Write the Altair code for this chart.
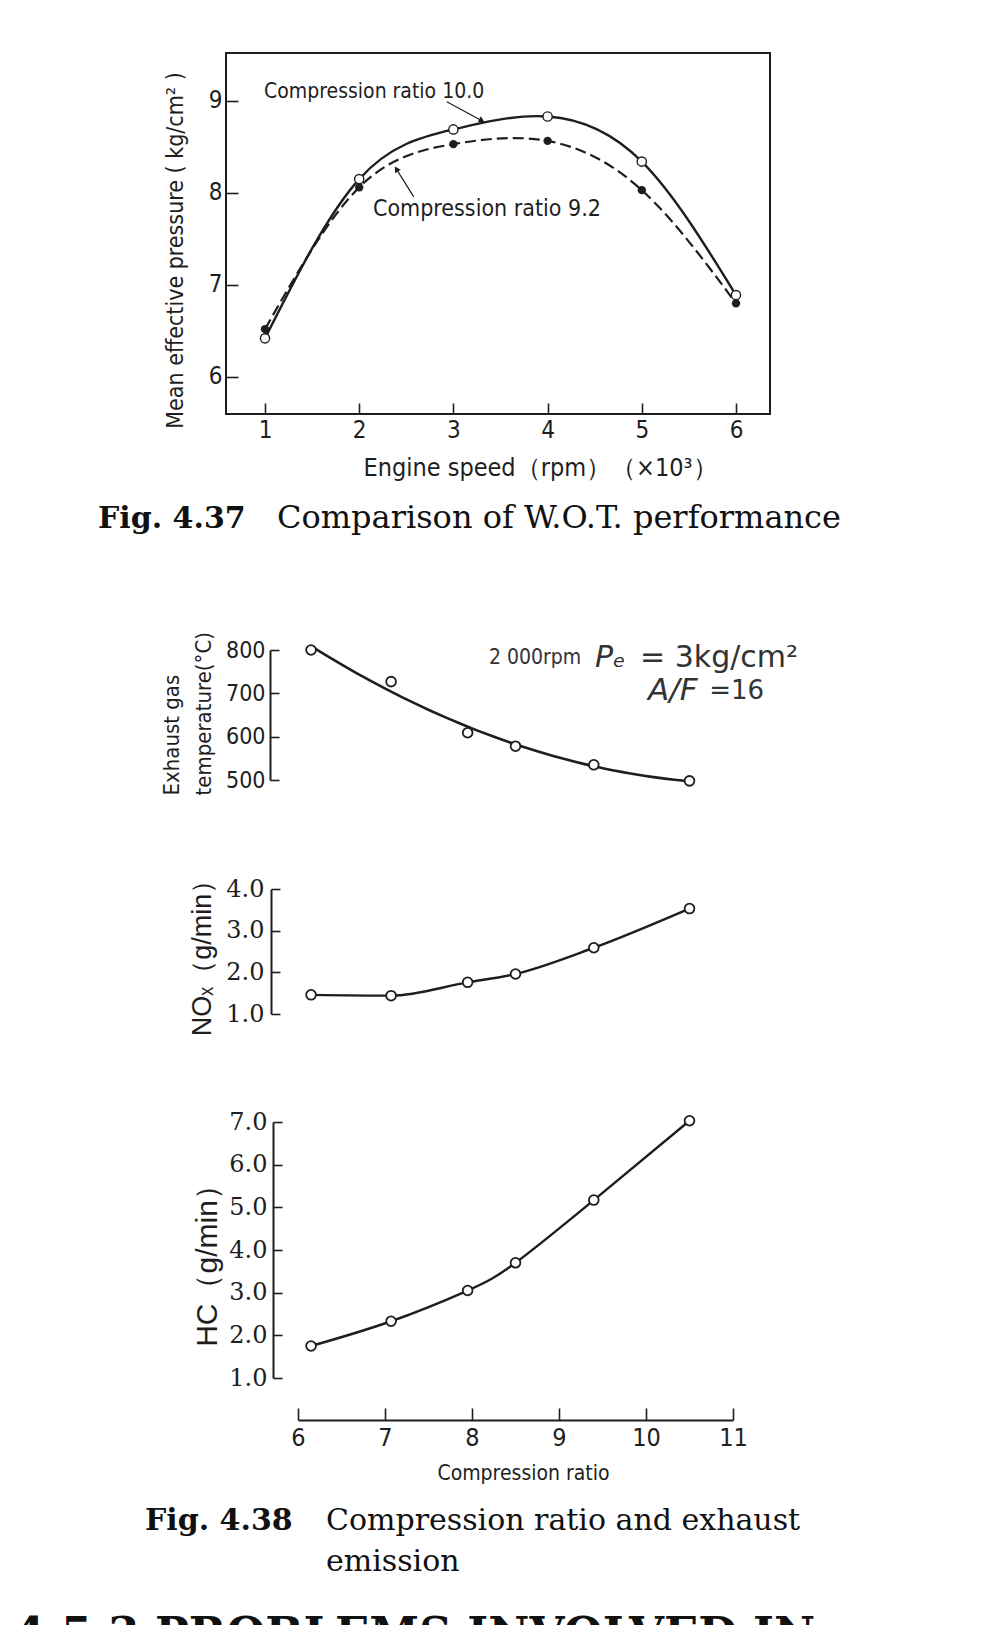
import math
import altair as alt
import pandas as pd

# ------------------------------------------------------------------ data
# Fig. 4.37  (engine speed x10^3 rpm vs mean effective pressure kg/cm2)
SPEED = [1, 2, 3, 4, 5, 6]
MEP_CR100 = [6.42, 8.15, 8.69, 8.83, 8.34, 6.89]   # compression ratio 10.0 (open)
MEP_CR92 = [6.52, 8.06, 8.53, 8.565, 8.03, 6.80]   # compression ratio 9.2 (filled)
SPEED_TICKS = [1, 2, 3, 4, 5, 6]
MEP_TICKS = [6, 7, 8, 9]

# Fig. 4.38  (compression ratio vs exhaust temperature, NOx, HC)
CR = [6.15, 7.07, 7.95, 8.5, 9.4, 10.5]
EXH_TEMP = [800, 727, 609, 578, 535, 498]
NOX = [1.46, 1.44, 1.76, 1.96, 2.59, 3.53]
HC = [1.75, 2.33, 3.05, 3.70, 5.17, 7.03]
CR_TICKS = [6, 7, 8, 9, 10, 11]
TEMP_TICKS = [500, 600, 700, 800]
NOX_TICKS = [1, 2, 3, 4]
HC_TICKS = [1, 2, 3, 4, 5, 6, 7]

# texts
LABEL_CR100 = "Compression ratio 10.0"
LABEL_CR92 = "Compression ratio 9.2"
TITLE_MEP = "Mean effective pressure ( kg/cm² )"
TITLE_SPEED = "Engine speed（rpm）（×10³）"
TITLE_TEMP = ["Exhaust gas", "temperature(°C)"]
TITLE_NOX = "NOₓ（g/min）"
TITLE_HC = "HC（g/min）"
TITLE_CR = "Compression ratio"
COND_RPM = ["2 000rpm"]
COND_EQ1, COND_EQ2 = ["= 3kg/cm²"], ["=16"]
COND_ITALIC = ["Pₑ", "A/F"]
CAP1_BOLD, CAP1_TEXT = "Fig. 4.37", "Comparison of W.O.T. performance"
CAP2_BOLD, CAP2_LINE1, CAP2_LINE2 = "Fig. 4.38", "Compression ratio and exhaust", "emission"
HEADING = "4.5.3  PROBLEMS INVOLVED IN"

# ------------------------------------------------------------------ layout / style
W, H = 967, 1617
INK = "#1e1e1e"
FONT_C = "Liberation Sans Narrow, DejaVu Sans Condensed, Arial Narrow, sans-serif"
FONT_S = "Liberation Sans, Arial, sans-serif"
FONT_D = "DejaVu Sans, sans-serif"
SERIF = "DejaVu Serif, Liberation Serif, serif"

# top chart scales (domain = frame extent)
X1_DOM, X1_RNG = [0.586, 6.361], [218, 762]
Y1_DOM, Y1_RNG = [5.598, 9.52], [406, 45]
# bottom chart scales
X2_DOM, X2_RNG = [6, 11], [290, 725]
T_DOM, T_RNG = [500, 800], [772, 642]
N_DOM, N_RNG = [1, 4], [1006, 881]
H_DOM, H_RNG = [1, 7], [1370, 1114]


def sc(dom, rng):
    return alt.Scale(domain=dom, range=rng, nice=False, zero=False)


x1, y1 = sc(X1_DOM, X1_RNG), sc(Y1_DOM, Y1_RNG)
x2 = sc(X2_DOM, X2_RNG)
yt, yn, yh = sc(T_DOM, T_RNG), sc(N_DOM, N_RNG), sc(H_DOM, H_RNG)

# ------------------------------------------------------------------ Fig 4.37
df100 = pd.DataFrame({"s": SPEED, "p": MEP_CR100})
df92 = pd.DataFrame({"s": SPEED, "p": MEP_CR92})

X1_AXIS_Y = Y1_RNG[0] - 11
Y1_AXIS_X = X1_RNG[0] + 12
x1_axis = alt.Axis(orient="bottom", offset=X1_AXIS_Y - H, values=SPEED_TICKS, tickSize=11,
                   tickWidth=1.6, tickColor=INK, domain=False, grid=False, labelPadding=4,
                   labelFont=FONT_C, labelFontSize=24, labelColor=INK, labelFlush=False,
                   labelOverlap=False, title=TITLE_SPEED, titleFont=FONT_C, titleFontSize=25,
                   titleFontWeight="normal", titleColor=INK, titleX=532, titleY=64,
                   titleAlign="center", titleBaseline="middle")
y1_axis = alt.Axis(orient="left", offset=-Y1_AXIS_X, values=MEP_TICKS, tickSize=12,
                   tickWidth=1.6, tickColor=INK, domain=False, grid=False, labelPadding=4,
                   labelFont=FONT_C, labelFontSize=24, labelColor=INK, labelFlush=False,
                   labelOverlap=False, title=TITLE_MEP, titleFont=FONT_C, titleFontSize=23,
                   titleFontWeight="normal", titleColor=INK, titleX=167 - Y1_AXIS_X, titleY=242,
                   titleAngle=270, titleAlign="center", titleBaseline="middle")


def X1(field):
    return alt.X(field, scale=x1, axis=x1_axis)


def Y1(field):
    return alt.Y(field, scale=y1, axis=y1_axis)


frame = alt.Chart(pd.DataFrame({"x0": [X1_DOM[0]], "x1": [X1_DOM[1]],
                                "y0": [Y1_DOM[0]], "y1": [Y1_DOM[1]]})).mark_rect(
    fillOpacity=0, stroke=INK, strokeWidth=2).encode(
    x=X1("x0:Q"), x2="x1", y=Y1("y0:Q"), y2="y1")

line100 = alt.Chart(df100).mark_line(interpolate="natural", color=INK, strokeWidth=2.4).encode(
    x=X1("s:Q"), y=Y1("p:Q"))
line92 = alt.Chart(df92).mark_line(interpolate="natural", color=INK, strokeWidth=2.2,
                                   strokeDash=[11, 5]).encode(x=X1("s:Q"), y=Y1("p:Q"))
pts100 = alt.Chart(df100).mark_point(shape="circle", filled=True, fill="white", stroke=INK,
                                     strokeWidth=1.4, size=85, opacity=1).encode(
    x=X1("s:Q"), y=Y1("p:Q"))
pts92 = alt.Chart(df92).mark_point(shape="circle", filled=True, fill=INK, size=70,
                                   opacity=1).encode(x=X1("s:Q"), y=Y1("p:Q"))

ann = pd.DataFrame({"x": [0.99, 2.146], "y": [9.10, 7.826], "t": [LABEL_CR100, LABEL_CR92],
                    "fs": [21, 23]})
ann_text = alt.Chart(ann).mark_text(align="left", baseline="middle", font=FONT_C,
                                    color=INK).encode(
    x=X1("x:Q"), y=Y1("y:Q"), text="t:N", size=alt.Size("fs:Q", scale=None, legend=None))

# leader arrows (data coordinates)
ARROW_X0, ARROW_Y0 = [2.93, 2.58], [8.99, 7.957]
ARROW_X1, ARROW_Y1 = [3.293, 2.40], [8.79, 8.25]
kx = (X1_RNG[1] - X1_RNG[0]) / (X1_DOM[1] - X1_DOM[0])
ky = (Y1_RNG[0] - Y1_RNG[1]) / (Y1_DOM[1] - Y1_DOM[0])
angles = [math.degrees(math.atan2((b - a) * kx, (d - c) * ky))
          for a, b, c, d in zip(ARROW_X0, ARROW_X1, ARROW_Y0, ARROW_Y1)]
arr = pd.DataFrame({"x0": ARROW_X0, "y0": ARROW_Y0, "x1": ARROW_X1, "y1": ARROW_Y1, "a": angles})
arrow_lines = alt.Chart(arr).mark_rule(color=INK, strokeWidth=1.2).encode(
    x=X1("x0:Q"), y=Y1("y0:Q"), x2="x1", y2="y1")
arrow_heads = alt.Chart(arr).mark_point(shape="triangle", filled=True, fill=INK, size=45,
                                        opacity=1).encode(
    x=X1("x1:Q"), y=Y1("y1:Q"), angle=alt.Angle("a:Q", scale=None))

top = alt.layer(frame, line100, line92, pts100, pts92, arrow_lines, arrow_heads, ann_text)

# ------------------------------------------------------------------ Fig 4.38
bdf = pd.DataFrame({"cr": CR, "temp": EXH_TEMP, "nox": NOX, "hc": HC})

YA_T, YA_N, YA_H = 262, 263, 265     # y-axis line positions
TICK = 9


def y_axis_main(xa, ticks, fmt, lfont, lsize, pad, title, tfont, tsize, tx, ty, **kw):
    opts = dict(titleAlign="center", titleBaseline="middle")
    opts.update(kw)
    return alt.Axis(orient="left", offset=-xa, values=ticks, format=fmt, ticks=False,
                    domain=True, domainWidth=2, domainColor=INK, grid=False, labelPadding=pad,
                    labelFont=lfont, labelFontSize=lsize, labelColor=INK, labelFlush=False,
                    labelOverlap=False, title=title, titleFont=tfont, titleFontSize=tsize,
                    titleFontWeight="normal", titleColor=INK, titleX=tx - xa, titleY=ty,
                    titleAngle=270, **opts)


def y_axis_ticks(xa, ticks):
    return alt.Axis(orient="left", offset=-(xa + TICK), values=ticks, tickSize=TICK,
                    tickWidth=1.6, tickColor=INK, domain=False, labels=False, grid=False,
                    title=None)


x2_axis_main = alt.Axis(orient="bottom", offset=1412 - H, values=CR_TICKS, ticks=False,
                        domain=True, domainWidth=2, domainColor=INK, grid=False,
                        labelPadding=5, labelFont=FONT_C, labelFontSize=25, labelColor=INK,
                        labelFlush=False, labelOverlap=False, title=TITLE_CR,
                        titleFont=FONT_C, titleFontSize=21, titleFontWeight="normal",
                        titleColor=INK, titleX=515, titleY=53, titleAlign="center",
                        titleBaseline="middle")
x2_axis_ticks = alt.Axis(orient="bottom", offset=1412 - 12 - H, values=CR_TICKS, tickSize=12,
                         tickWidth=1.6, tickColor=INK, domain=False, labels=False, grid=False,
                         title=None)


def panel(field, yscale, yaxis, curve, xaxis=None):
    base = alt.Chart(bdf)
    if curve == "regression":
        line = base.transform_regression("cr", field, method="poly", order=2).mark_line(
            color=INK, strokeWidth=2.6)
    else:
        line = base.mark_line(interpolate=curve, color=INK, strokeWidth=2.4)
    line = line.encode(x=alt.X("cr:Q", scale=x2, axis=xaxis),
                       y=alt.Y(f"{field}:Q", scale=yscale, axis=yaxis))
    pts = base.mark_point(shape="circle", filled=True, fill="white", stroke=INK,
                          strokeWidth=1.8, size=95, opacity=1).encode(
        x=alt.X("cr:Q", scale=x2, axis=xaxis),
        y=alt.Y(f"{field}:Q", scale=yscale, axis=yaxis))
    return alt.layer(line, pts)


def tick_layer(field, yscale, yaxis, xaxis=None):
    return alt.Chart(bdf).mark_point(opacity=0).encode(
        x=alt.X("cr:Q", scale=x2, axis=xaxis),
        y=alt.Y(f"{field}:Q", scale=yscale, axis=yaxis))


temp_panel = panel("temp", yt, y_axis_main(YA_T, TEMP_TICKS, "d", FONT_C, 23, 5, TITLE_TEMP,
                                           FONT_C, 22, 163, 787, titleLineHeight=32,
                                           titleAlign="left"),
                   "regression")
nox_panel = panel("nox", yn, y_axis_main(YA_N, NOX_TICKS, ".1f", SERIF, 24, 7, TITLE_NOX,
                                         FONT_S, 27, 194, 943), "monotone")
hc_panel = panel("hc", yh, y_axis_main(YA_H, HC_TICKS, ".1f", SERIF, 24, 6, TITLE_HC,
                                       FONT_S, 30, 199, 1250), "natural",
                 xaxis=x2_axis_main)
temp_ticks = tick_layer("temp", yt, y_axis_ticks(YA_T, TEMP_TICKS))
nox_ticks = tick_layer("nox", yn, y_axis_ticks(YA_N, NOX_TICKS))
hc_ticks = tick_layer("hc", yh, y_axis_ticks(YA_H, HC_TICKS), xaxis=x2_axis_ticks)

# test-condition note (data coordinates of the temperature panel)
COND_Y1, COND_Y2 = 781.5, 705.4


def cond_text(x, y, t, font, size, **kw):
    df = pd.DataFrame({"x": x, "y": y, "t": t})
    return alt.Chart(df).mark_text(align="left", baseline="middle", font=font, fontSize=size,
                                   color="#333", **kw).encode(
        x=alt.X("x:Q", scale=x2, axis=None), y=alt.Y("y:Q", scale=yt, axis=None), text="t:N")


cond = alt.layer(
    cond_text([8.195], [COND_Y1], COND_RPM, FONT_C, 21),
    cond_text([9.931], [COND_Y1], COND_EQ1, FONT_D, 30),
    cond_text([10.727], [COND_Y2], COND_EQ2, FONT_D, 26),
    cond_text([9.414], [COND_Y1], COND_ITALIC[:1], FONT_D, 30, fontStyle="italic"),
    cond_text([10.023], [COND_Y2], COND_ITALIC[1:], FONT_D, 31, fontStyle="italic"),
)


# ------------------------------------------------------------------ captions
def caption(text, px, py, size, bold=False, font=SERIF):
    return alt.Chart(pd.DataFrame({"t": [text]})).mark_text(
        align="left", baseline="alphabetic", font=font, fontSize=size,
        fontWeight="bold" if bold else "normal", color="#111").encode(
        x=alt.value(px), y=alt.value(py), text="t:N")


caps = [
    caption(CAP1_BOLD, 90, 520, 30, bold=True),
    caption(CAP1_TEXT, 269, 520, 32),
    caption(CAP2_BOLD, 137, 1522, 30, bold=True),
    caption(CAP2_LINE1, 318, 1522, 30),
    caption(CAP2_LINE2, 318, 1563, 30),
    caption(HEADING, 6, 1641, 45, bold=True),
]

chart = alt.layer(top, temp_panel, temp_ticks, nox_panel, nox_ticks, hc_panel, hc_ticks,
                  cond, *caps).resolve_scale(x="independent", y="independent").properties(
    width=W, height=H, autosize=alt.AutoSizeParams(type="none"), padding=0,
    background="white").configure_view(strokeOpacity=0)

chart.save("out.html", embed_options={"renderer": "svg", "actions": False})
